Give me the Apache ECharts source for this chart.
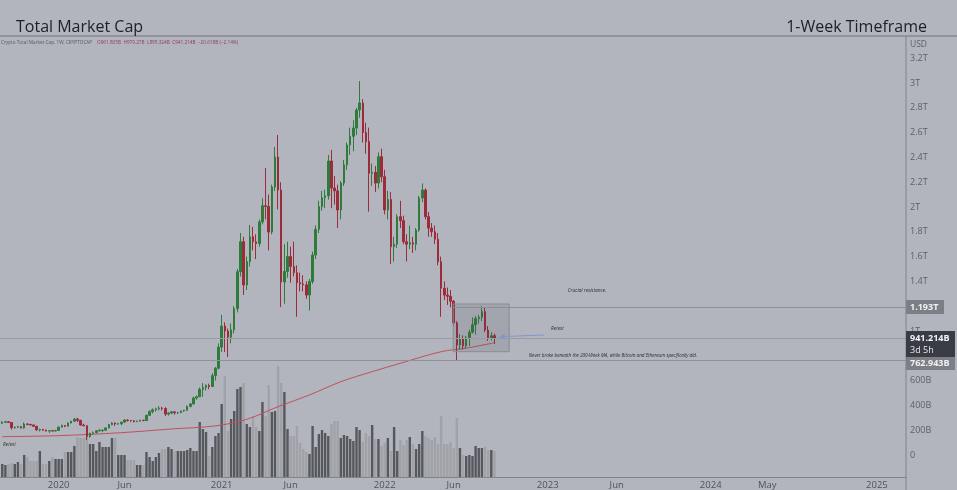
<!DOCTYPE html>
<html><head><meta charset="utf-8">
<script src="https://cdn.jsdelivr.net/npm/echarts@6/dist/echarts.min.js"></script>
<style>html,body{margin:0;padding:0;background:#b2b5bd;}#c{width:957px;height:490px;}</style>
</head><body><div id="c"></div>
<script>
// ---------------- DATA ----------------
const firstWeek = '2019-09-02';           // Monday of the first weekly candle
const opens  = [255,265,268,262,220,224,228,218,250,246,242,232,202,205,200,193,196,194,
 198,225,238,232,258,272,290,280,242,236,150,175,180,195,198,200,218,245,258,250,
 252,265,282,278,276,270,273,280,278,320,350,365,372,378,375,330,338,348,340,342,
 355,360,392,412,460,470,530,545,560,552,640,700,870,1040,1000,950,1010,1180,1478,1720,
 1371,1560,1760,1720,1705,1880,2010,2005,1798,2161,2403,2137,1395,1480,1600,1520,1470,1390,1380,1372,
 1290,1400,1613,1820,2003,2075,2090,2371,2153,2130,1976,2193,2340,2500,2570,2637,2782,2839,2600,2527,
 2272,2280,2193,2406,2244,1976,2060,1680,1700,1922,1890,1720,1700,1712,1700,1815,2073,2137,1922,1830,
 1800,1740,1559,1344,1290,1280,1240,1065,887,935,880,945,990,1050,1100,1110,1156,1008,940,961.805];
const highs  = [272,275,273,264,230,235,232,262,257,252,245,234,212,210,204,200,202,200,
 230,245,240,262,276,298,300,284,252,240,180,190,200,210,205,222,250,265,262,258,
 268,290,288,282,280,278,285,284,325,360,375,382,395,388,385,345,355,352,348,358,
 365,400,420,470,480,545,580,570,575,660,710,900,1130,1070,1020,1060,1200,1500,1790,1760,
 1600,1855,1840,1780,1900,2070,2315,2100,2180,2484,2581,2200,1700,1720,1680,1720,1530,1470,1450,1400,
 1420,1640,1850,2050,2130,2140,2420,2460,2250,2180,2210,2380,2520,2640,2700,2800,3016,2870,2680,2640,
 2350,2330,2440,2470,2300,2130,2120,1760,1940,2050,1930,1780,1850,1760,1830,2090,2190,2150,1960,1870,
 1850,1790,1600,1400,1350,1330,1250,1080,975,965,960,1010,1110,1120,1130,1200,1190,1040,990,979.27];
const lows   = [252,260,258,205,213,220,215,212,240,238,228,195,190,196,190,178,190,188,
 196,220,225,230,255,268,265,235,232,120,140,165,175,190,185,198,215,240,235,245,
 240,260,270,268,262,265,270,272,276,318,335,350,360,360,315,318,330,325,330,338,
 348,358,385,405,445,465,470,520,530,550,600,690,830,830,790,900,980,1150,1440,1290,
 1330,1520,1650,1580,1680,1860,1900,1650,1780,2130,1980,1194,1220,1430,1390,1440,1115,1320,1320,1260,
 1165,1380,1580,1790,1970,1990,2060,1990,2020,1830,1900,2170,2300,2420,2450,2580,2720,2520,2430,1962,
 2170,2120,2150,2200,1940,1900,1540,1560,1670,1830,1700,1560,1660,1630,1650,1800,2040,1900,1760,1760,
 1700,1530,1115,1250,1210,1190,1040,766,850,850,860,880,980,970,1060,1080,990,920,925,895.324];
const closes = [265,268,262,220,224,228,218,250,246,242,232,202,205,200,193,196,194,198,
 225,238,232,258,272,290,280,242,236,150,175,180,195,198,200,218,245,258,250,252,
 265,282,278,276,270,273,280,278,320,350,365,372,378,375,330,338,348,340,342,355,
 360,392,412,460,470,530,545,560,552,640,700,870,1040,1000,950,1010,1180,1478,1720,1371,
 1560,1760,1720,1705,1880,2010,2005,1798,2161,2403,2137,1395,1480,1600,1520,1470,1390,1380,1372,1290,
 1400,1613,1820,2003,2075,2090,2371,2153,2130,1976,2193,2340,2500,2570,2637,2782,2839,2600,2527,2272,
 2280,2193,2406,2244,1976,2060,1680,1700,1922,1890,1720,1700,1712,1700,1815,2073,2137,1922,1830,1800,
 1740,1559,1344,1290,1280,1240,1065,887,935,880,945,990,1050,1100,1110,1156,1008,940,962,941.214];
const volumes = [13,12,13,14,13,15,13,22,20,16,16,16,26,13,13,16,20,18,
 18,18,25,25,25,31,40,39,39,40,33,33,26,35,30,30,30,39,39,22,
 22,22,17,17,17,12,12,12,25,20,16,20,24,28,28,30,28,26,26,26,
 26,27,29,26,26,55,48,45,21,30,41,44,73,101,46,58,66,88,90,94,
 53,50,61,50,46,75,61,92,65,66,111,94,85,48,41,41,51,34,28,25,
 23,51,30,43,47,44,41,53,56,56,39,42,41,38,36,50,47,35,44,41,
 52,38,38,31,34,39,26,50,26,37,32,37,40,33,28,33,46,41,39,37,
 40,33,61,33,33,35,29,59,29,22,21,22,21,31,29,29,30,27,27,26];
// 200-week moving average, read at a few points
const maDates  = ['2019-09-02','2020-01-06','2020-05-25','2020-09-14','2020-12-21','2021-03-01','2021-05-10',
                  '2021-07-19','2021-09-27','2021-12-06','2022-02-07','2022-05-09','2022-07-04','2022-09-05'];
const maValues = [148,156,180,210,235,288,390,484,591,672,740,833,862,905];
// x-axis tick labels
const xTickDates  = ['2020-01-06','2020-06-01','2021-01-04','2021-06-07','2022-01-03','2022-06-06',
                     '2023-01-02','2023-06-05','2024-01-01','2024-05-06','2025-01-06'];
const xTickLabels = ['2020','Jun','2021','Jun','2022','Jun','2023','Jun','2024','May','2025'];
// annotation levels
const resistanceLevel = 1193;
const lastClose = 941.214;
const juneLow = 762.943;
const boxDates = ['2022-06-05','2022-10-08'];
const boxPrices = [1218, 833];
const arrowDates = ['2022-09-16','2022-12-25'];
const arrowPrices = [954, 968];

// ---------------- HELPERS ----------------
const DAY = 86400000;
const ORIGIN = Date.UTC(2020, 0, 6);
const dayOf = s => Math.round((Date.parse(s + 'T00:00:00Z') - ORIGIN) / DAY);
const firstDay = dayOf(firstWeek);
const candleDay = i => firstDay + 7 * i;
const X_MIN = -131, X_MAX = 1892;
const tickDays = xTickDates.map(dayOf);
const tickMap = {}; tickDays.forEach((d, i) => tickMap[d] = xTickLabels[i]);

const UP = '#2f7b3c', DOWN = '#9c2b3b';
const candleData = opens.map((o, i) => [candleDay(i), o, closes[i], lows[i], highs[i]]);
const volData = volumes.map((v, i) => ({
  value: [candleDay(i), v],
  itemStyle: { color: closes[i] >= opens[i] ? '#56585e' : '#a0a2a8' }
}));
const maData = maDates.map((d, i) => [dayOf(d), maValues[i]]);

const fmtY = v => v === 0 ? '0' : (v < 1000 ? v + 'B' : (+(v / 1000).toFixed(2)) + 'T');
const FONT = '"Open Sans", "Noto Sans", sans-serif';

const chart = echarts.init(document.getElementById('c'), null, { renderer: 'canvas' });
chart.setOption({
  backgroundColor: '#b2b5bd',
  animation: false,
  grid: [
    { left: 0, right: 51, top: 36, bottom: 35 },
    { left: 0, right: 51, top: 357, bottom: 13 }
  ],
  xAxis: [
    { type: 'value', gridIndex: 0, min: X_MIN, max: X_MAX, show: false },
    { type: 'value', gridIndex: 1, min: X_MIN, max: X_MAX,
      splitLine: { show: false }, axisTick: { show: false },
      axisLine: { show: true, onZero: false, lineStyle: { color: '#80838b', width: 1 } },
      axisLabel: { customValues: tickDays, formatter: v => tickMap[v] || '',
        color: '#4f525a', fontSize: 9.5, fontFamily: FONT, margin: 3 } }
  ],
  yAxis: [
    { type: 'value', gridIndex: 0, position: 'right', min: 0, max: 3379, interval: 200,
      splitLine: { show: false }, axisLine: { show: false }, axisTick: { show: false },
      axisLabel: { showMaxLabel: false, margin: 4, color: '#5d6068', fontSize: 9, fontFamily: FONT, formatter: fmtY } },
    { type: 'value', gridIndex: 1, min: 0, max: 120, show: false }
  ],
  series: [
    { type: 'bar', name: 'Volume', xAxisIndex: 1, yAxisIndex: 1, data: volData, barWidth: 2.4, z: 1 },
    { type: 'line', name: '200W MA', xAxisIndex: 0, yAxisIndex: 0, data: maData, smooth: 0.35,
      symbol: 'none', lineStyle: { color: '#c2505b', width: 1 }, z: 2, silent: true },
    { type: 'candlestick', name: 'TOTAL', xAxisIndex: 0, yAxisIndex: 0, data: candleData,
      encode: { x: 0, y: [1, 2, 3, 4] }, barWidth: 2, z: 3,
      itemStyle: { color: UP, color0: DOWN, borderColor: UP, borderColor0: DOWN, borderWidth: 1 },
      markArea: { silent: true, z: 4,
        itemStyle: { color: 'rgba(70,74,84,0.14)', borderColor: '#8a8d95', borderWidth: 1 },
        data: [[{ coord: [dayOf(boxDates[0]), boxPrices[0]] }, { coord: [dayOf(boxDates[1]), boxPrices[1]] }]] },
      markLine: { silent: true, symbol: ['none', 'none'], label: { show: false },
        lineStyle: { type: 'solid', width: 1, color: '#8c8f96' },
        data: [
          [{ coord: [dayOf(boxDates[0]), resistanceLevel] }, { coord: [X_MAX, resistanceLevel] }],
          { yAxis: lastClose, lineStyle: { color: '#999ca3' } },
          { yAxis: juneLow, lineStyle: { color: '#8f9299' } },
          [{ coord: [dayOf(arrowDates[0]), arrowPrices[0]], symbol: 'arrow', symbolSize: [5, 6],
             lineStyle: { color: '#8395cf', width: 1 } },
           { coord: [dayOf(arrowDates[1]), arrowPrices[1]], symbol: 'none' }]
        ] } }
  ],
  graphic: [
    { type: 'line', shape: { x1: 0, y1: 36, x2: 957, y2: 36 }, style: { stroke: '#72757d', lineWidth: 1.2 }, z: 50 },
    { type: 'line', shape: { x1: 906, y1: 36, x2: 906, y2: 490 }, style: { stroke: '#80838b', lineWidth: 1 }, z: 50 },
    { type: 'text', x: 16, y: 27, z: 50, style: { text: 'Total Market Cap', font: '16px ' + FONT, fill: '#1e1f23', textVerticalAlign: 'middle', verticalAlign: 'middle' } },
    { type: 'text', x: 927, y: 27, z: 50, style: { text: '1-Week Timeframe', font: '16px ' + FONT, fill: '#1e1f23', textAlign: 'right', align: 'right', textVerticalAlign: 'middle', verticalAlign: 'middle' } },
    { type: 'text', x: 1, y: 43, z: 50, style: { text: 'Crypto Total Market Cap, 1W, CRYPTOCAP', font: '4.7px ' + FONT, fill: '#595b62', textVerticalAlign: 'middle', verticalAlign: 'middle' } },
    { type: 'text', x: 97, y: 43, z: 50, style: { text: 'O961.805B  H979.27B  L895.324B  C941.214B  \u221220.618B (\u22122.14%)', font: '4.7px ' + FONT, fill: '#8e3b4b', textVerticalAlign: 'middle', verticalAlign: 'middle' } },
    { type: 'text', x: 910, y: 45, z: 50, style: { text: 'USD', font: '8.5px ' + FONT, fill: '#5d6068', textVerticalAlign: 'middle', verticalAlign: 'middle' } },
    { type: 'text', x: 587, y: 291, z: 50, style: { text: 'Crucial resistance.', font: 'italic 4.8px ' + FONT, fill: '#2b2c31', textAlign: 'center', align: 'center', textVerticalAlign: 'middle', verticalAlign: 'middle' } },
    { type: 'text', x: 551, y: 329, z: 50, style: { text: 'Retest', font: 'italic 4.8px ' + FONT, fill: '#2b2c31', textVerticalAlign: 'middle', verticalAlign: 'middle' } },
    { type: 'text', x: 613, y: 355.5, z: 50, style: { text: 'Never broke beneath the 200-Week MA, while Bitcoin and Ethereum specifically did.', font: 'italic 4.6px ' + FONT, fill: '#2b2c31', textAlign: 'center', align: 'center', textVerticalAlign: 'middle', verticalAlign: 'middle' } },
    { type: 'text', x: 3, y: 445, z: 50, style: { text: 'Retest', font: 'italic 4.8px ' + FONT, fill: '#2b2c31', textVerticalAlign: 'middle', verticalAlign: 'middle' } },
    { type: 'rect', shape: { x: 906, y: 300, width: 38, height: 14 }, style: { fill: '#7c7f86' }, z: 60 },
    { type: 'text', x: 910, y: 307, z: 61, style: { text: '1.193T', font: 'bold 9px ' + FONT, fill: '#f1f1f3', textVerticalAlign: 'middle', verticalAlign: 'middle' } },
    { type: 'rect', shape: { x: 906, y: 331, width: 49, height: 26 }, style: { fill: '#393c44' }, z: 60 },
    { type: 'text', x: 910, y: 338, z: 61, style: { text: '941.214B', font: 'bold 9px ' + FONT, fill: '#f4f4f6', textVerticalAlign: 'middle', verticalAlign: 'middle' } },
    { type: 'text', x: 910, y: 350, z: 61, style: { text: '3d 5h', font: '9px ' + FONT, fill: '#e8e8ea', textVerticalAlign: 'middle', verticalAlign: 'middle' } },
    { type: 'rect', shape: { x: 906, y: 357, width: 49, height: 13 }, style: { fill: '#7c7f86' }, z: 60 },
    { type: 'text', x: 910, y: 363.5, z: 61, style: { text: '762.943B', font: 'bold 9px ' + FONT, fill: '#f1f1f3', textVerticalAlign: 'middle', verticalAlign: 'middle' } }
  ]
});
</script></body></html>
